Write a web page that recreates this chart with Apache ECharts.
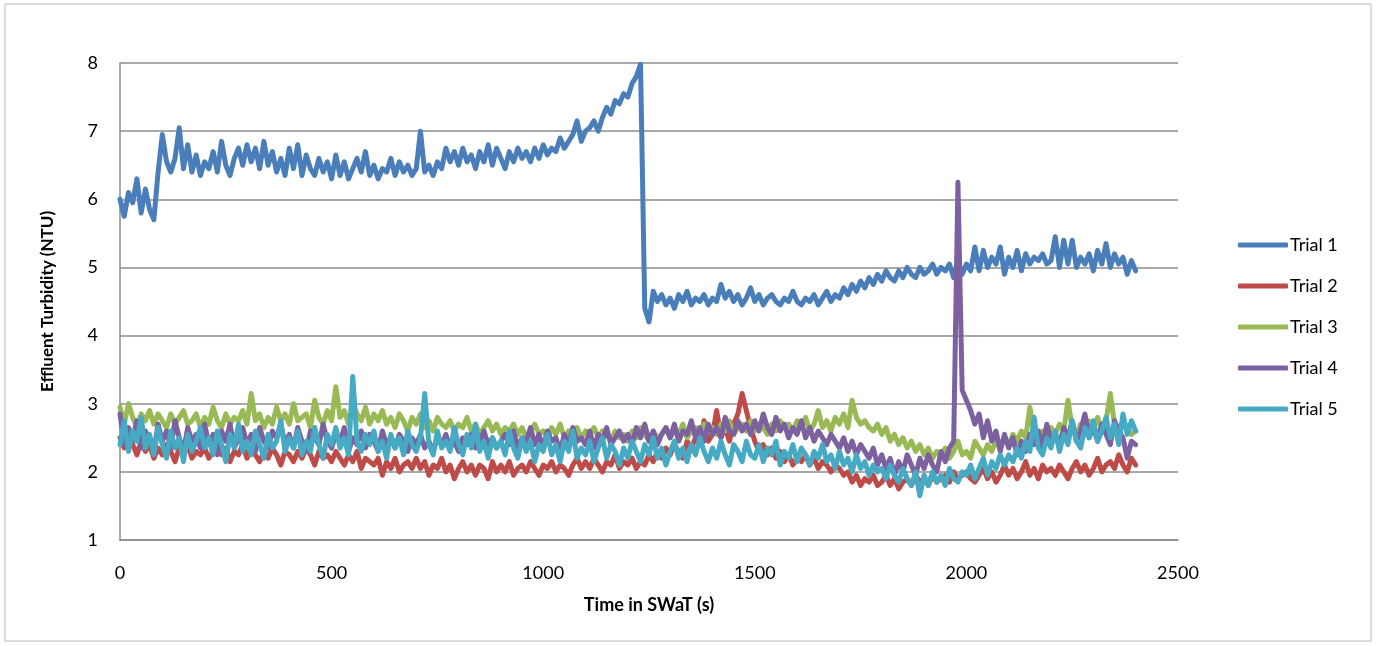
<!DOCTYPE html>
<html>
<head>
<meta charset="utf-8">
<script src="https://cdn.jsdelivr.net/npm/echarts@6/dist/echarts.min.js"></script>
<style>
  html, body { margin: 0; padding: 0; background: #fff; }
  #chart { width: 1378px; height: 646px; }
</style>
</head>
<body>
<div id="chart"></div>
<script>
// sample interval of the readings, seconds
const step = 10;

const trial1 = [
  6.00, 5.75, 6.10, 5.95, 6.30, 5.80, 6.15, 5.85, 5.70, 6.40,
  6.95, 6.55, 6.40, 6.60, 7.05, 6.45, 6.80, 6.40, 6.65, 6.35,
  6.55, 6.45, 6.70, 6.40, 6.85, 6.50, 6.35, 6.60, 6.75, 6.50,
  6.80, 6.55, 6.75, 6.45, 6.85, 6.50, 6.70, 6.40, 6.60, 6.35,
  6.75, 6.45, 6.80, 6.35, 6.65, 6.45, 6.35, 6.60, 6.40, 6.55,
  6.30, 6.65, 6.35, 6.55, 6.30, 6.45, 6.60, 6.40, 6.70, 6.35,
  6.50, 6.30, 6.45, 6.40, 6.60, 6.35, 6.55, 6.40, 6.50, 6.35,
  6.45, 7.00, 6.40, 6.50, 6.35, 6.55, 6.45, 6.75, 6.55, 6.70,
  6.50, 6.75, 6.55, 6.65, 6.45, 6.70, 6.55, 6.80, 6.50, 6.75,
  6.60, 6.45, 6.70, 6.55, 6.75, 6.60, 6.70, 6.55, 6.75, 6.60,
  6.80, 6.65, 6.75, 6.70, 6.90, 6.75, 6.85, 6.95, 7.15, 6.85,
  7.00, 7.05, 7.15, 7.00, 7.20, 7.35, 7.25, 7.45, 7.40, 7.55,
  7.50, 7.70, 7.80, 7.98, 4.40, 4.20, 4.65, 4.50, 4.60, 4.45,
  4.55, 4.40, 4.60, 4.50, 4.65, 4.45, 4.55, 4.50, 4.60, 4.45,
  4.55, 4.50, 4.75, 4.55, 4.65, 4.50, 4.60, 4.45, 4.55, 4.70,
  4.50, 4.60, 4.45, 4.55, 4.60, 4.50, 4.45, 4.55, 4.50, 4.65,
  4.50, 4.45, 4.55, 4.50, 4.60, 4.45, 4.55, 4.65, 4.50, 4.60,
  4.55, 4.70, 4.60, 4.75, 4.65, 4.80, 4.70, 4.85, 4.75, 4.90,
  4.80, 4.95, 4.85, 4.80, 4.95, 4.85, 5.00, 4.90, 4.85, 5.00,
  4.90, 4.95, 5.05, 4.90, 5.00, 4.95, 5.05, 4.85, 5.10, 4.90,
  5.05, 4.95, 5.30, 4.95, 5.25, 5.00, 5.15, 5.05, 5.30, 4.90,
  5.15, 5.00, 5.25, 4.95, 5.20, 5.05, 5.15, 5.10, 5.20, 5.05,
  5.10, 5.45, 5.00, 5.40, 5.05, 5.40, 5.00, 5.15, 5.05, 5.20,
  4.95, 5.25, 5.05, 5.35, 5.00, 5.20, 5.05, 5.15, 4.90, 5.10,
  4.95
];

const trial2 = [
  2.50, 2.35, 2.60, 2.40, 2.25, 2.45, 2.30, 2.40, 2.20, 2.35,
  2.25, 2.40, 2.30, 2.15, 2.35, 2.25, 2.40, 2.20, 2.30, 2.25,
  2.35, 2.20, 2.30, 2.45, 2.25, 2.35, 2.15, 2.30, 2.25, 2.40,
  2.20, 2.35, 2.25, 2.15, 2.30, 2.20, 2.35, 2.25, 2.10, 2.30,
  2.25, 2.15, 2.30, 2.20, 2.35, 2.25, 2.10, 2.30, 2.20, 2.25,
  2.15, 2.30, 2.20, 2.10, 2.25, 2.15, 2.30, 2.05, 2.20, 2.15,
  2.10, 2.20, 1.95, 2.15, 2.05, 2.20, 2.00, 2.10, 2.15, 2.05,
  2.20, 2.05, 2.15, 1.95, 2.10, 2.05, 2.20, 2.00, 2.10, 1.90,
  2.05, 2.15, 2.00, 2.10, 1.95, 2.10, 2.05, 1.90, 2.15, 2.00,
  2.10, 2.00, 2.15, 1.95, 2.05, 2.10, 2.00, 2.15, 2.05, 1.95,
  2.10, 2.05, 2.15, 2.00, 2.10, 2.05, 1.95, 2.10, 2.20, 2.05,
  2.15, 2.05, 2.20, 2.10, 2.00, 2.15, 2.10, 2.25, 2.05, 2.15,
  2.10, 2.20, 2.05, 2.15, 2.10, 2.25, 2.15, 2.30, 2.20, 2.35,
  2.25, 2.40, 2.30, 2.20, 2.45, 2.35, 2.50, 2.40, 2.75, 2.45,
  2.55, 2.90, 2.50, 2.65, 2.45, 2.70, 2.85, 3.15, 2.90, 2.65,
  2.45, 2.30, 2.40, 2.25, 2.35, 2.20, 2.30, 2.15, 2.25, 2.10,
  2.20, 2.15, 2.25, 2.10, 2.20, 2.05, 2.15, 2.10, 2.00, 2.10,
  2.05, 1.95, 2.00, 1.85, 1.95, 1.80, 1.90, 1.85, 1.95, 1.80,
  1.85, 1.95, 1.80, 1.90, 1.75, 1.85, 1.90, 1.80, 1.95, 1.85,
  1.90, 1.80, 1.95, 1.85, 1.90, 1.95, 1.85, 2.00, 1.90, 1.95,
  2.00, 1.90, 1.85, 1.95, 2.05, 1.90, 2.00, 1.85, 1.95, 2.10,
  1.95, 2.05, 1.90, 2.00, 2.15, 1.95, 2.05, 1.90, 2.10, 2.00,
  2.05, 1.95, 2.10, 2.00, 1.90, 2.05, 2.15, 2.00, 2.10, 1.95,
  2.05, 2.20, 2.00, 2.10, 2.15, 2.05, 2.25, 2.10, 2.00, 2.20,
  2.10
];

const trial3 = [
  2.95, 2.70, 3.00, 2.80, 2.65, 2.85, 2.75, 2.90, 2.70, 2.85,
  2.75, 2.65, 2.85, 2.70, 2.80, 2.90, 2.70, 2.75, 2.85, 2.65,
  2.80, 2.70, 2.95, 2.75, 2.65, 2.85, 2.70, 2.80, 2.75, 2.90,
  2.70, 3.15, 2.75, 2.85, 2.65, 2.80, 2.70, 2.95, 2.75, 2.85,
  2.70, 3.00, 2.75, 2.80, 2.85, 2.65, 3.05, 2.80, 2.70, 2.90,
  2.75, 3.25, 2.80, 2.90, 2.70, 3.00, 2.85, 2.75, 2.95, 2.70,
  2.85, 2.75, 2.90, 2.70, 2.80, 2.65, 2.85, 2.75, 2.60, 2.80,
  2.70, 2.85, 2.65, 2.75, 2.60, 2.80, 2.70, 2.65, 2.75, 2.60,
  2.70, 2.65, 2.80, 2.60, 2.70, 2.55, 2.65, 2.75, 2.60, 2.70,
  2.55, 2.65, 2.60, 2.70, 2.55, 2.65, 2.50, 2.60, 2.70, 2.55,
  2.60, 2.50, 2.65, 2.55, 2.70, 2.50, 2.60, 2.55, 2.65, 2.50,
  2.60, 2.55, 2.65, 2.50, 2.60, 2.55, 2.45, 2.60, 2.50, 2.55,
  2.45, 2.60, 2.50, 2.65, 2.55, 2.45, 2.60, 2.50, 2.55, 2.65,
  2.50, 2.60, 2.55, 2.70, 2.50, 2.60, 2.65, 2.55, 2.70, 2.60,
  2.65, 2.55, 2.70, 2.60, 2.75, 2.55, 2.65, 2.70, 2.60, 2.75,
  2.60, 2.70, 2.65, 2.55, 2.70, 2.60, 2.75, 2.65, 2.70, 2.60,
  2.75, 2.65, 2.80, 2.60, 2.70, 2.90, 2.65, 2.75, 2.60, 2.80,
  2.70, 2.85, 2.65, 3.05, 2.80, 2.70, 2.75, 2.65, 2.60, 2.70,
  2.55, 2.65, 2.45, 2.55, 2.40, 2.50, 2.35, 2.45, 2.30, 2.40,
  2.25, 2.35, 2.20, 2.30, 2.25, 2.35, 2.20, 2.30, 2.45, 2.25,
  2.30, 2.20, 2.45, 2.35, 2.25, 2.40, 2.30, 2.45, 2.35, 2.50,
  2.40, 2.55, 2.45, 2.60, 2.50, 2.95, 2.55, 2.45, 2.60, 2.50,
  2.65, 2.55, 2.70, 2.60, 3.05, 2.65, 2.55, 2.70, 2.60, 2.75,
  2.65, 2.80, 2.60, 2.75, 3.15, 2.70, 2.60, 2.75, 2.65, 2.55,
  2.60
];

const trial4 = [
  2.85, 2.40, 2.65, 2.50, 2.75, 2.35, 2.60, 2.45, 2.30, 2.70,
  2.45, 2.60, 2.35, 2.75, 2.50, 2.30, 2.65, 2.45, 2.55, 2.35,
  2.70, 2.40, 2.55, 2.25, 2.60, 2.45, 2.70, 2.35, 2.50, 2.65,
  2.40, 2.55, 2.30, 2.65, 2.45, 2.35, 2.60, 2.50, 2.70, 2.40,
  2.55, 2.35, 2.65, 2.45, 2.30, 2.60, 2.50, 2.40, 2.70, 2.45,
  2.35, 2.55, 2.45, 2.65, 2.30, 2.50, 2.40, 2.60, 2.35, 2.55,
  2.45, 2.30, 2.60, 2.40, 2.50, 2.35, 2.55, 2.45, 2.30, 2.50,
  2.40, 2.55, 2.35, 2.45, 2.30, 2.50, 2.40, 2.55, 2.35, 2.45,
  2.30, 2.50, 2.40, 2.55, 2.35, 2.45, 2.60, 2.40, 2.50, 2.35,
  2.45, 2.55, 2.40, 2.60, 2.35, 2.50, 2.45, 2.65, 2.40, 2.55,
  2.35, 2.60, 2.45, 2.50, 2.30, 2.55, 2.40, 2.65, 2.45, 2.50,
  2.40, 2.60, 2.35, 2.55, 2.45, 2.65, 2.40, 2.50, 2.60, 2.45,
  2.55, 2.40, 2.65, 2.50, 2.70, 2.45, 2.60, 2.40, 2.55, 2.65,
  2.50, 2.70, 2.45, 2.60, 2.55, 2.75, 2.50, 2.65, 2.45, 2.70,
  2.55, 2.65, 2.50, 2.80, 2.60, 2.55, 2.75, 2.60, 2.70, 2.55,
  2.75, 2.60, 2.85, 2.65, 2.55, 2.80, 2.60, 2.70, 2.50, 2.65,
  2.55, 2.75, 2.50, 2.65, 2.45, 2.60, 2.50, 2.40, 2.55, 2.45,
  2.35, 2.50, 2.30, 2.45, 2.25, 2.40, 2.30, 2.20, 2.35, 2.10,
  2.25, 2.05, 2.20, 1.95, 2.15, 2.00, 2.25, 2.10, 1.95, 2.20,
  2.05, 2.25, 2.10, 2.00, 2.30, 2.15, 2.35, 2.45, 6.25, 3.20,
  3.05, 2.90, 2.70, 2.85, 2.50, 2.75, 2.45, 2.60, 2.30, 2.55,
  2.35, 2.50, 2.25, 2.45, 2.30, 2.55, 2.40, 2.60, 2.35, 2.70,
  2.45, 2.55, 2.40, 2.65, 2.50, 2.75, 2.45, 2.60, 2.85, 2.50,
  2.65, 2.45, 2.70, 2.55, 2.40, 2.75, 2.60, 2.50, 2.20, 2.45,
  2.40
];

const trial5 = [
  2.40, 2.75, 2.30, 2.60, 2.45, 2.80, 2.35, 2.55, 2.25, 2.65,
  2.40, 2.20, 2.60, 2.35, 2.50, 2.15, 2.55, 2.30, 2.45, 2.65,
  2.35, 2.50, 2.25, 2.60, 2.40, 2.15, 2.55, 2.35, 2.70, 2.30,
  2.45, 2.25, 2.60, 2.40, 2.20, 2.55, 2.35, 2.45, 2.75, 2.30,
  2.50, 2.35, 2.60, 2.25, 2.45, 2.30, 2.65, 2.40, 2.20, 2.55,
  2.40, 2.65, 2.35, 2.50, 2.25, 3.40, 2.45, 2.30, 2.55, 2.40,
  2.60, 2.30, 2.45, 2.20, 2.55, 2.35, 2.50, 2.25, 2.60, 2.40,
  2.30, 2.50, 3.15, 2.40, 2.25, 2.60, 2.35, 2.45, 2.30, 2.65,
  2.40, 2.25, 2.55, 2.35, 2.70, 2.30, 2.45, 2.20, 2.50, 2.35,
  2.45, 2.25, 2.60, 2.35, 2.20, 2.50, 2.30, 2.45, 2.15, 2.40,
  2.30, 2.55, 2.25, 2.40, 2.15, 2.45, 2.30, 2.60, 2.20, 2.35,
  2.25, 2.45, 2.15, 2.35, 2.50, 2.20, 2.40, 2.30, 2.10, 2.35,
  2.20, 2.45, 2.30, 2.15, 2.40, 2.25, 2.50, 2.20, 2.35, 2.10,
  2.30, 2.45, 2.20, 2.35, 2.15, 2.40, 2.25, 2.50, 2.30, 2.15,
  2.35, 2.20, 2.45, 2.25, 2.10, 2.40, 2.30, 2.15, 2.45, 2.25,
  2.20, 2.40, 2.15, 2.35, 2.25, 2.45, 2.10, 2.30, 2.20, 2.40,
  2.15, 2.35, 2.25, 2.10, 2.30, 2.20, 2.40, 2.15, 2.25, 2.05,
  2.30, 2.10, 2.20, 2.00, 2.25, 2.05, 2.15, 1.95, 2.10, 2.00,
  2.05, 1.90, 2.10, 1.95, 1.85, 2.05, 1.90, 1.80, 2.00, 1.65,
  1.95, 1.80, 2.00, 1.85, 1.95, 1.80, 2.05, 1.90, 1.85, 2.00,
  1.95, 2.10, 1.90, 2.05, 2.20, 1.95, 2.15, 2.05, 2.25, 2.10,
  2.25, 2.15, 2.35, 2.20, 2.45, 2.30, 2.80, 2.35, 2.25, 2.50,
  2.35, 2.60, 2.30, 2.55, 2.40, 2.75, 2.45, 2.35, 2.65, 2.50,
  2.75, 2.45, 2.60, 2.80, 2.50, 2.70, 2.40, 2.85, 2.55, 2.75,
  2.60
];

const seriesNames = ["Trial 1", "Trial 2", "Trial 3", "Trial 4", "Trial 5"];
const seriesValues = [trial1, trial2, trial3, trial4, trial5];
const colors = ["#4a7ebb", "#be4b48", "#98b954", "#7d60a0", "#46aac5"];
const xTicks = [0, 500, 1000, 1500, 2000, 2500];
const yTicks = [1, 2, 3, 4, 5, 6, 7, 8];

const font = "Lato, 'Open Sans', sans-serif";

function toPairs(values) {
  return values.map((v, i) => [i * step, v]);
}

const chart = echarts.init(document.getElementById("chart"));
chart.setOption({
  animation: false,
  backgroundColor: "#fff",
  color: colors,
  graphic: [
    {
      type: "rect",
      shape: { x: 5, y: 4, width: 1366, height: 637 },
      style: { fill: "none", stroke: "#b7b7b7", lineWidth: 1 },
      silent: true
    }
  ],
  grid: {
    left: 120,
    right: 200,
    top: 63,
    bottom: 106
  },
  legend: {
    orient: "vertical",
    left: 1233,
    top: 231,
    itemWidth: 50,
    itemHeight: 5,
    itemGap: 23,
    icon: "roundRect",
    data: seriesNames,
    textStyle: { fontFamily: font, fontSize: 18, color: "#000", padding: [0, 0, 0, -3] }
  },
  xAxis: {
    type: "value",
    min: xTicks[0],
    max: xTicks[xTicks.length - 1],
    interval: 500,
    name: "Time in SWaT (s)",
    nameLocation: "middle",
    nameGap: 56,
    nameTextStyle: { fontFamily: font, fontSize: 18, fontWeight: "bold", color: "#000" },
    axisLine: { show: true, lineStyle: { color: "#8c8c8c", width: 1.5 } },
    axisTick: { show: false },
    splitLine: { show: false },
    axisLabel: { fontFamily: font, fontSize: 18, color: "#000", margin: 24, formatter: (v) => String(v) }
  },
  yAxis: {
    type: "value",
    min: yTicks[0],
    max: yTicks[yTicks.length - 1],
    interval: 1,
    name: "Effluent Turbidity (NTU)",
    nameLocation: "middle",
    nameGap: 64,
    nameTextStyle: { fontFamily: font, fontSize: 17, fontWeight: "bold", color: "#000" },
    axisLine: { show: true, lineStyle: { color: "#8c8c8c", width: 1.5 } },
    axisTick: { show: false },
    splitLine: { show: true, lineStyle: { color: "#8c8c8c", width: 1.5 } },
    axisLabel: { fontFamily: font, fontSize: 18, color: "#000", margin: 22, formatter: (v) => String(v) }
  },
  series: seriesNames.map((name, k) => ({
    name: name,
    type: "line",
    data: toPairs(seriesValues[k]),
    showSymbol: false,
    symbol: "none",
    lineStyle: { width: 5, color: colors[k], cap: "round", join: "round" },
    emphasis: { disabled: true }
  }))
});
</script>
</body>
</html>
